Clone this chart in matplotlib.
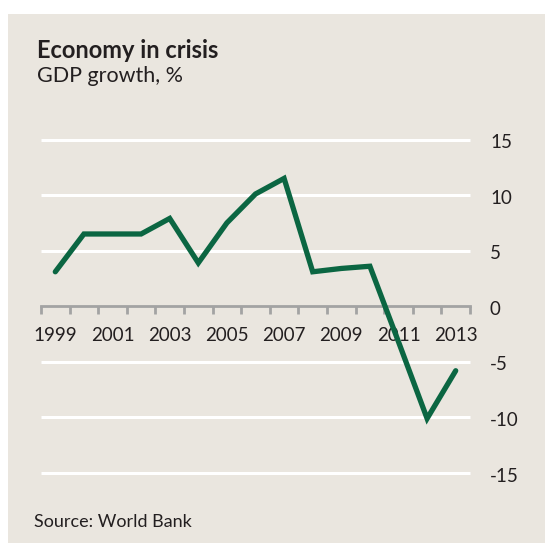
import matplotlib
matplotlib.use("Agg")
import matplotlib.pyplot as plt
from matplotlib.patches import Rectangle

plt.rcParams['font.family'] = ['Lato', 'DejaVu Sans']

years = [1999, 2000, 2001, 2002, 2003, 2004, 2005, 2006, 2007,
         2008, 2009, 2010, 2011, 2012, 2013]
gdp_growth = [3.1, 6.5, 6.5, 6.5, 7.9, 3.9, 7.5, 10.1, 11.5,
              3.1, 3.4, 3.6, -3.2, -10.1, -5.8]
y_ticks = [15, 10, 5, 0, -5, -10, -15]
x_labels = ["1999", "2001", "2003", "2005", "2007", "2009", "2011", "2013"]

bg = '#eae6df'
text_color = '#231f20'
green = '#0b6642'

W, H = 545, 543
fig = plt.figure(figsize=(W / 100, H / 100), dpi=100)
fig.patch.set_facecolor('white')
fig.patches.append(Rectangle((8 / W, 0), 1 - 8 / W, 1 - 14 / H,
                             transform=fig.transFigure, facecolor=bg,
                             edgecolor='none', zorder=-5))

left, right = 41 / W, 470 / W
top, bottom = 1 - 139.5 / H, 1 - 473 / H
ax = fig.add_axes([left, bottom, right - left, top - bottom])
ax.set_facecolor('none')
ax.set_zorder(2)

n = len(years)
xs = list(range(n))
ax.set_xlim(-0.5, n - 0.5)
ax.set_ylim(-15, 15)

# white gridlines (zero line drawn as the grey axis)
for v in y_ticks:
    if v != 0:
        ax.plot([-0.5, n - 0.5], [v, v], color='white', lw=2.2,
                clip_on=False, zorder=1, solid_capstyle='butt')

for s in ['top', 'right', 'left']:
    ax.spines[s].set_visible(False)
ax.spines['bottom'].set_position(('data', 0))
ax.spines['bottom'].set_color('#a3a3a3')
ax.spines['bottom'].set_linewidth(2)
ax.spines['bottom'].set_zorder(2)

# tick marks sit between categories; labels on every other year
ax.set_xticks([i - 0.5 for i in range(n + 1)], minor=True)
ax.set_xticks([i for i, y in enumerate(years) if str(y) in x_labels])
ax.set_xticklabels(x_labels)
ax.tick_params(axis='x', which='minor', direction='out', length=6,
               width=2, color='#a3a3a3')
ax.tick_params(axis='x', which='major', length=0, pad=15,
               labelsize=13.5, labelcolor=text_color)

# value labels on the right, sitting just below their gridlines
ax.set_yticks([])
for v in y_ticks:
    fig.text(490 / W, bottom + (v + 15) / 30 * (top - bottom) - 3 / H, str(v),
             ha='left', va='center', fontsize=13.5, color=text_color)

ax.plot(xs, gdp_growth, color=green, lw=3.8, zorder=3,
        solid_capstyle='round', solid_joinstyle='miter', clip_on=False)

fig.text(37 / W, 1 - 50 / H, "Economy in crisis", fontsize=17,
         fontweight='bold', color=text_color, ha='left', va='center')
fig.text(37 / W, 1 - 76 / H, "GDP growth, %", fontsize=15.5,
         color=text_color, ha='left', va='center')
fig.text(34 / W, 1 - 522 / H, "Source: World Bank", fontsize=13,
         color=text_color, ha='left', va='center')

fig.savefig('out.png', dpi=100, facecolor=fig.get_facecolor())
